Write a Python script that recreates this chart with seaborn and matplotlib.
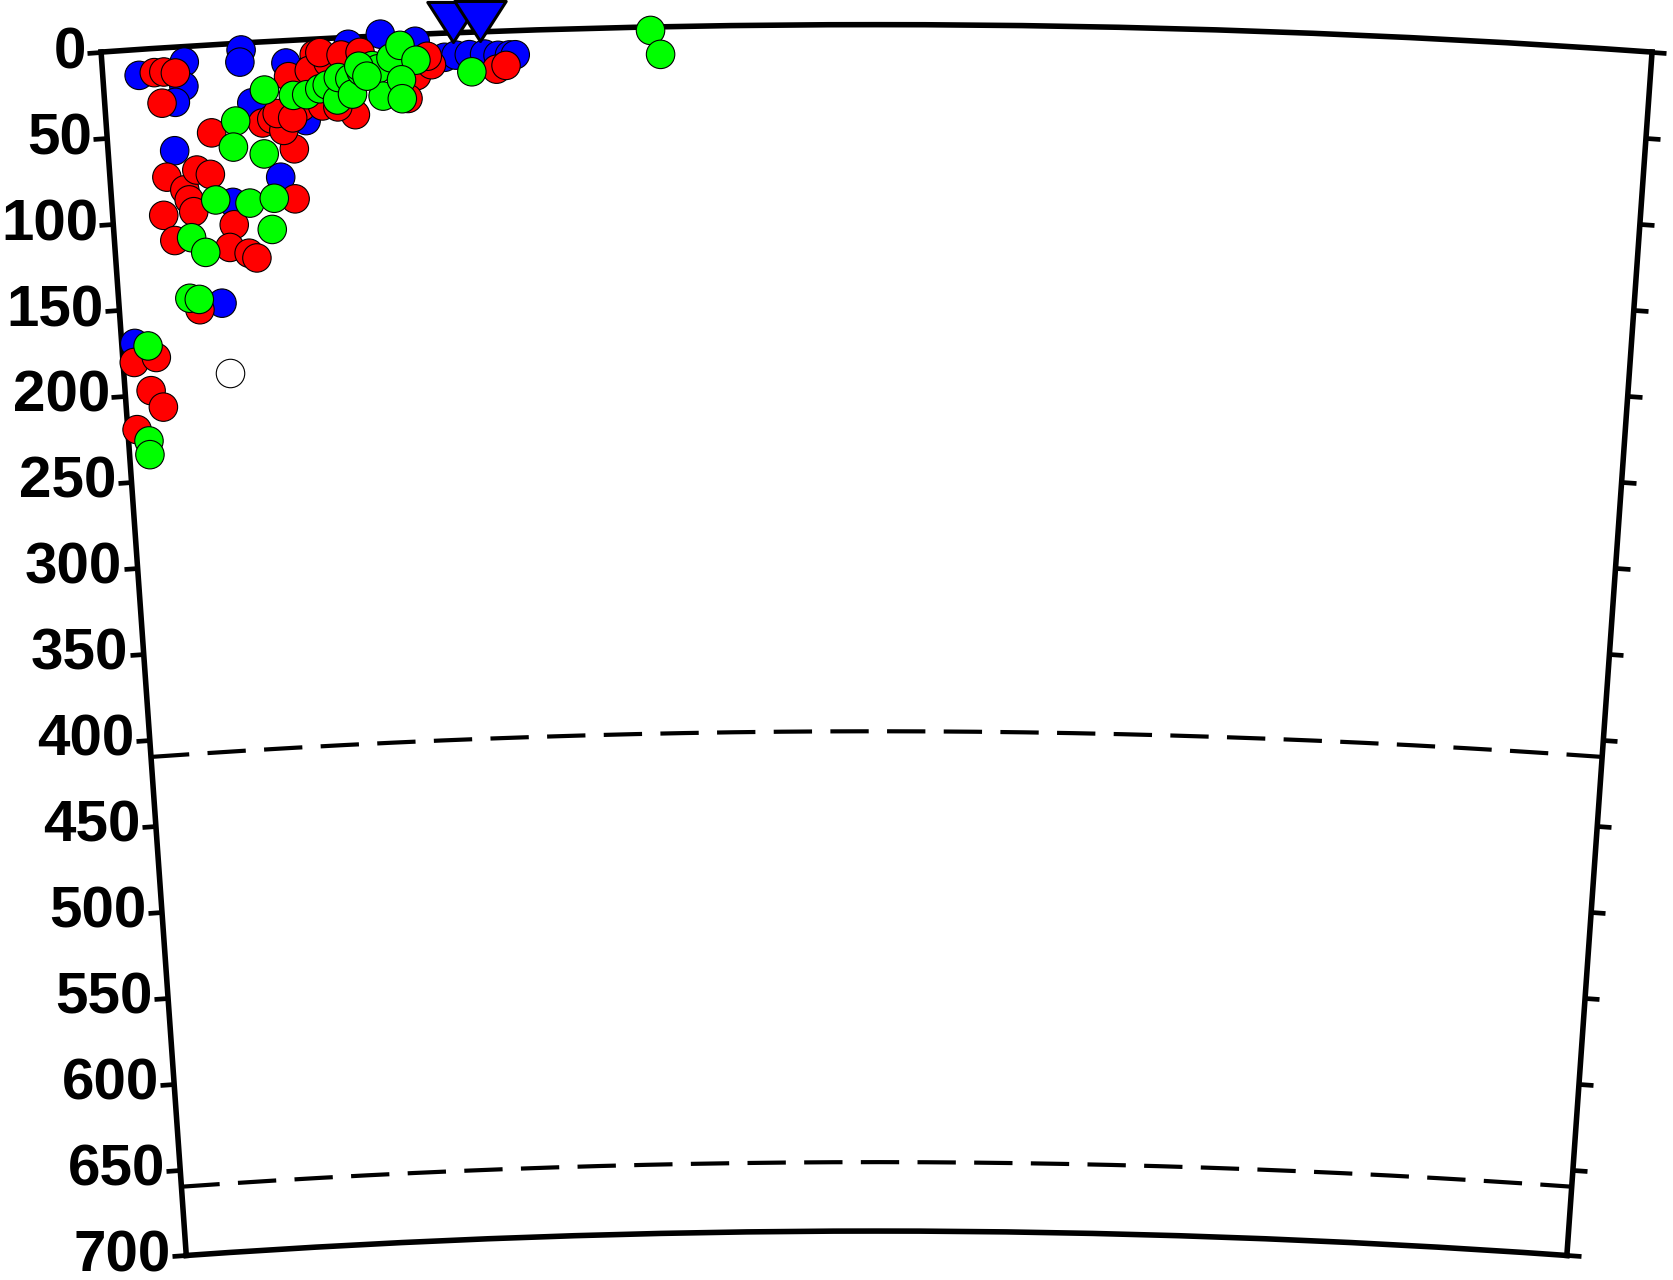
import numpy as np
import pandas as pd
import matplotlib
matplotlib.use("Agg")
import matplotlib.pyplot as plt
import seaborn as sns
from matplotlib.path import Path

# ---------------- data (theta in degrees along section, depth in km) ----------------
blue_theta = [0.19, 0.43, 0.42, 0.37, 0.73, 0.72, 0.96, 1.46, 0.77, 1.05, 0.35, 0.90,
              0.64, 0.55, 0.07, 1.29, 1.64, 1.79, 1.85, 1.92, 2.00, 2.07, 2.13, 2.16]
blue_depth = [15, 9, 23, 32, 4, 11, 13, -1, 35, 47, 60, 79,
              92, 150, 170, 4, 4, 14, 13, 13, 13, 14, 14, 14]

red_theta = [0.27, 0.32, 0.38, 0.30, 1.11, 0.55, 0.98, 0.82, 0.87, 0.93, 0.90, 1.03,
             0.97, 1.08, 1.18, 1.14, 1.25, 1.35, 1.31, 1.14, 1.64, 1.59, 0.30, 0.39,
             0.46, 0.53, 0.41, 0.27, 0.43, 0.32, 0.97, 0.64, 0.61, 0.71, 0.75, 0.43,
             0.06, 0.18, 0.14, 0.20, 0.05, 1.72, 1.70, 2.06, 2.11, 0.98, 1.22]
red_depth = [14, 14, 15, 32, 9, 51, 63, 47, 45, 52, 42, 39,
             21, 18, 14, 8, 10, 9, 45, 39, 24, 37, 75, 83,
             72, 75, 89, 97, 96, 112, 92, 105, 118, 122, 125, 153,
             181, 179, 198, 208, 220, 18, 13, 22, 20, 45, 40]

green_theta = [0.84, 0.68, 0.66, 0.82, 0.99, 1.06, 1.13, 1.17, 1.22, 1.23, 1.29, 1.30,
               1.35, 1.41, 1.44, 1.46, 1.51, 1.56, 1.64, 1.56, 1.56, 1.34, 1.38, 0.55,
               0.73, 0.86, 0.84, 0.41, 0.48, 0.38, 0.43, 0.14, 0.11, 0.11, 1.93, 2.87, 2.92]
green_depth = [28, 45, 60, 65, 32, 32, 29, 27, 36, 23, 24, 33,
               20, 17, 19, 35, 13, 6, 15, 26, 37, 17, 23, 90,
               93, 91, 109, 111, 120, 146, 147, 172, 227, 235, 23, 2, 16]

white_theta = [0.57]
white_depth = [191]

station_theta = [1.84, 1.98]
station_depth = [-6, -6]

discontinuities = [410, 660]
depth_ticks = [0, 50, 100, 150, 200, 250, 300, 350, 400, 450, 500, 550, 600, 650, 700]

EARTH_RADIUS = 6371.0
THETA_SPAN = 8.1
MAX_DEPTH = 700

# ---------------- style ----------------
sns.set_style("white")
plt.rcParams['font.family'] = ['Liberation Sans', 'DejaVu Sans']
plt.rcParams['font.weight'] = 'bold'
plt.rcParams['text.color'] = 'black'
plt.rcParams['ytick.color'] = 'black'
plt.rcParams['ytick.labelcolor'] = 'black'

fig = plt.figure(figsize=(16.73, 12.8), dpi=100)
# polar wedge bbox is made square internally -> square axes box around the wedge
ax = fig.add_axes([0.0604, -0.1059, 0.9271, 1.2117], projection='polar')
ax.set_theta_direction(-1)
ax.set_theta_offset(np.deg2rad(90 + THETA_SPAN / 2))
ax.set_thetamin(0)
ax.set_thetamax(THETA_SPAN)

quakes = pd.DataFrame({
    'theta': np.deg2rad(blue_theta + red_theta + green_theta),
    'depth': blue_depth + red_depth + green_depth,
    'group': ['blue'] * len(blue_theta) + ['red'] * len(red_theta) + ['green'] * len(green_theta),
})

# discontinuity dashed lines
th = np.linspace(0, np.deg2rad(THETA_SPAN), 300)
for d in discontinuities:
    ax.plot(th, np.full_like(th, d), color='black', lw=3.0,
            linestyle=(0, (9.2, 4.4)), zorder=2)

sns.scatterplot(data=quakes, x='theta', y='depth', hue='group',
                palette={'blue': '#0000ff', 'red': '#ff0000', 'green': '#00ff00'},
                s=420, edgecolor='black', linewidth=0.8, legend=False,
                clip_on=False, zorder=3, ax=ax)

sns.scatterplot(x=np.deg2rad(white_theta), y=white_depth, color='white',
                s=420, edgecolor='black', linewidth=0.8, legend=False,
                clip_on=False, zorder=3, ax=ax)

tri = Path([(-1, 0.78), (1, 0.78), (0, -0.78), (-1, 0.78)],
           [Path.MOVETO, Path.LINETO, Path.LINETO, Path.CLOSEPOLY])
sns.scatterplot(x=np.deg2rad(station_theta), y=station_depth, color='#0000ff',
                marker=tri, s=1370, edgecolor='black', linewidth=2.2,
                legend=False, clip_on=False, zorder=5, ax=ax)

ax.set_autoscale_on(False)
ax.set_ylim(MAX_DEPTH, 0)
ax.set_rorigin(EARTH_RADIUS)
ax.set_thetamin(0)
ax.set_thetamax(THETA_SPAN)

ax.set_xticks([])
ax.set_yticks(depth_ticks, labels=[str(d) for d in depth_ticks])
ax.tick_params(axis='y', direction='out', length=10, width=3.4, pad=1,
               labelsize=42, left=True, right=True,
               labelleft=True, labelright=False, color='black',
               labelcolor='black')
ax.grid(False)
ax.set_xlabel('')
ax.set_ylabel('')
for sp in ax.spines.values():
    sp.set_linewidth(4.0)
    sp.set_color('black')

fig.savefig('out.png', dpi=100, facecolor='white')
